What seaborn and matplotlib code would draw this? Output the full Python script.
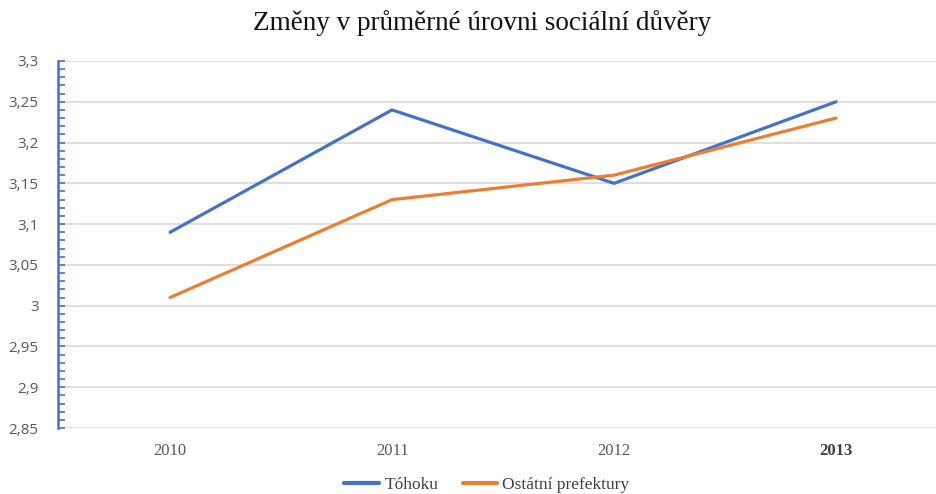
import matplotlib
matplotlib.use("Agg")
import matplotlib.pyplot as plt
import seaborn as sns
import pandas as pd
import numpy as np
from matplotlib.ticker import MultipleLocator, FuncFormatter

years = ["2010", "2011", "2012", "2013"]
tohoku = [3.09, 3.24, 3.15, 3.25]
ostatni = [3.01, 3.13, 3.16, 3.23]
series_names = ["Tóhoku", "Ostátní prefektury"]
colors = ["#4472C4", "#ED7D31"]
title = "Změny v průměrné úrovni sociální důvěry"

df = pd.DataFrame({
    "x": list(range(len(years))) * 2,
    "value": tohoku + ostatni,
    "series": [series_names[0]] * len(years) + [series_names[1]] * len(years),
})

sns.set_style("white")
fig = plt.figure(figsize=(9.37, 4.94), dpi=100)
ax = fig.add_axes([58 / 937, 1 - 428 / 494, 1 - 58 / 937, (428 - 61) / 494])

sns.lineplot(data=df, x="x", y="value", hue="series", palette=colors,
             linewidth=2.3, ax=ax, legend=True)

ax.set_xlim(-0.505, 3.455)
ax.set_ylim(2.85, 3.3)
ax.yaxis.set_major_locator(MultipleLocator(0.05))
ax.yaxis.set_minor_locator(MultipleLocator(0.01))
ax.yaxis.set_major_formatter(FuncFormatter(lambda v, p: (f"{v:.2f}".rstrip("0").rstrip(".")).replace(".", ",")))
ax.set_xticks(range(len(years)))
ax.set_xticklabels(years)
ax.grid(axis="y", color="#D9D9D9", linewidth=1.2)
ax.grid(axis="x", visible=False)
ax.set_axisbelow(True)
for s in ["top", "right", "bottom"]:
    ax.spines[s].set_visible(False)
ax.spines["left"].set_color("#4472C4")
ax.spines["left"].set_linewidth(1.8)
ax.tick_params(axis="y", which="both", direction="in", color="#4472C4", width=1.2,
               length=5, left=True, labelsize=11, labelcolor="#595959", pad=14)
ax.tick_params(axis="x", length=0, pad=11, labelsize=12, labelcolor="#595959")
for lbl in ax.get_yticklabels():
    lbl.set_fontfamily("Open Sans")
for i, lbl in enumerate(ax.get_xticklabels()):
    lbl.set_fontfamily("Liberation Serif")
    if i == len(years) - 1:
        lbl.set_color("#404040")
        lbl.set_fontweight("bold")
ax.set_xlabel("")
ax.set_ylabel("")

fig.text(482 / 937, 1 - 23 / 494, title, ha="center", va="center", fontsize=19.5,
         family="Liberation Serif", color="#111111")

handles, labels = ax.get_legend_handles_labels()
ax.legend(handles, labels, loc="center", bbox_to_anchor=(487 / 937, 1 - 485 / 494),
          bbox_transform=fig.transFigure, ncol=2, frameon=False, handlelength=2.0,
          handletextpad=0.3, columnspacing=1.4, prop={"family": "Liberation Serif", "size": 12.5})
for t in ax.get_legend().get_texts():
    t.set_color("#404040")
for l in ax.get_legend().get_lines():
    l.set_linewidth(3)

fig.savefig("out.png", dpi=100)
